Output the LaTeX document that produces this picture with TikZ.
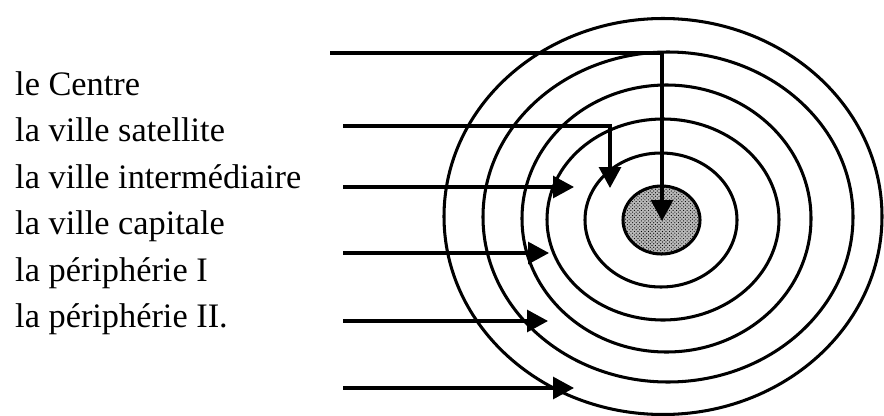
\documentclass[tikz,border=0pt]{standalone}
\usepackage{fontspec}
\setmainfont{Liberation Serif}
\usepackage{tikz}
\usetikzlibrary{arrows.meta,patterns,positioning}
\tikzset{lbl/.style={anchor=base west, inner sep=0pt, font=\fontsize{29.3}{35}\selectfont}}
\tikzset{ring/.style={draw, line width=2.6pt}}
\tikzset{ptr/.style={-{Triangle[length=6.3mm,width=6.6mm]}, line width=2.6pt}}

\begin{document}
\begin{tikzpicture}[x=0.03cm, y=-0.03cm]
\useasboundingbox (0,0) rectangle (884,416);

% the rings
\draw[ring] (663,216.5) ellipse [x radius=219, y radius=198];
\draw[ring] (668,217) ellipse [x radius=185, y radius=165];
\draw[ring] (666.5,218.5) ellipse [x radius=144.5, y radius=133.5];
\draw[ring] (663,219.5) ellipse [x radius=116, y radius=100.5];
\draw[ring] (661,220) ellipse [x radius=76, y radius=67];
\fill[gray!55] (661.5,220) ellipse [x radius=38.5, y radius=34];
\draw[ring, pattern=crosshatch dots] (661.5,220) ellipse [x radius=38.5, y radius=34];

% the labels
\node[lbl] (centre) at (15,95) {le Centre};
\node[lbl] (satellite) at (15,141.5) {la ville satellite};
\node[lbl] (intermediaire) at (15,188) {la ville intermédiaire};
\node[lbl] (capitale) at (15,234.5) {la ville capitale};
\node[lbl] (periph1) at (15,281) {la périphérie I};
\node[lbl] (periph2) at (15,327.5) {la périphérie II.};

\coordinate (centre-s) at (330,53);
\coordinate (centre-t) at (662,221);
\coordinate (satellite-s) at (343,126);
\coordinate (satellite-t) at (610,188);
\coordinate (intermediaire-s) at (343,187);
\coordinate (intermediaire-t) at (574,187);
\coordinate (capitale-s) at (343,253);
\coordinate (capitale-t) at (549,253);
\coordinate (periph1-s) at (343,321);
\coordinate (periph1-t) at (548,321);
\coordinate (periph2-s) at (343,388);
\coordinate (periph2-t) at (574,388);

\draw[ptr] (centre-s) -| (centre-t);
\draw[ptr] (satellite-s) -| (satellite-t);
\draw[ptr] (intermediaire-s) -- (intermediaire-t);
\draw[ptr] (capitale-s) -- (capitale-t);
\draw[ptr] (periph1-s) -- (periph1-t);
\draw[ptr] (periph2-s) -- (periph2-t);
\end{tikzpicture}
\end{document}
